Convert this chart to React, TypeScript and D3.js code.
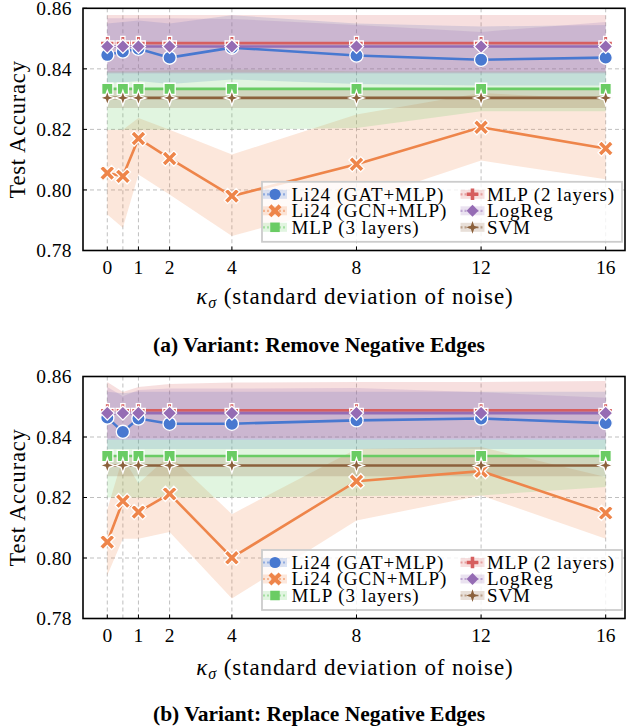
import React, { useEffect, useRef } from 'react';
import * as d3 from 'd3';

// x positions (noise std) and ticks
const noiseLevels = [0, 0.5, 1, 2, 4, 8, 12, 16];
const xTickValues = [0, 1, 2, 4, 8, 12, 16];
const yTickValues = [0.78, 0.8, 0.82, 0.84, 0.86];
const yGridValues = [0.8, 0.82, 0.84];

const seriesNames = ['Li24 (GAT+MLP)', 'Li24 (GCN+MLP)', 'MLP (3 layers)', 'MLP (2 layers)', 'LogReg', 'SVM'];
const seriesColors = ['#4878d0', '#ee854a', '#6acc64', '#d65f5f', '#956cb4', '#8c613c'];
const seriesMarkers = ['circle', 'x', 'square', 'plus', 'diamond', 'star'];

// (a) Remove negative edges
const removeGat = [0.8446, 0.8457, 0.8466, 0.8437, 0.847, 0.8444, 0.843, 0.8437];
const removeGatLo = [0.8355, 0.8355, 0.836, 0.835, 0.8365, 0.835, 0.8345, 0.8345];
const removeGatHi = [0.855, 0.8555, 0.856, 0.855, 0.8577, 0.855, 0.854, 0.8545];
const removeGcn = [0.8056, 0.8045, 0.817, 0.8104, 0.798, 0.8085, 0.8207, 0.8137];
const removeGcnLo = [0.7919, 0.7875, 0.8051, 0.7985, 0.7848, 0.796, 0.8097, 0.8035];
const removeGcnHi = [0.8199, 0.8199, 0.8238, 0.8199, 0.8117, 0.8249, 0.832, 0.83];
const removeMlp3 = [0.8334, 0.8334, 0.8334, 0.8334, 0.8334, 0.8334, 0.8334, 0.8334];
const removeMlp3Lo = [0.8199, 0.8199, 0.8199, 0.8199, 0.8199, 0.8205, 0.826, 0.826];
const removeMlp3Hi = [0.8392, 0.8392, 0.8392, 0.8395, 0.8398, 0.8392, 0.8392, 0.8392];
const removeMlp2 = [0.8485, 0.8485, 0.8485, 0.8485, 0.8485, 0.8485, 0.8485, 0.8485];
const removeMlp2Lo = [0.8388, 0.8388, 0.8388, 0.8388, 0.8388, 0.8388, 0.8388, 0.8388];
const removeMlp2Hi = [0.8578, 0.8578, 0.8578, 0.8578, 0.8578, 0.8578, 0.8578, 0.8578];
const removeLogReg = [0.8474, 0.8474, 0.8474, 0.8474, 0.8474, 0.8474, 0.8474, 0.8474];
const removeLogRegLo = [0.8385, 0.8385, 0.8385, 0.8385, 0.8385, 0.8385, 0.8385, 0.8385];
const removeLogRegHi = [0.8567, 0.8567, 0.8567, 0.8567, 0.8565, 0.8545, 0.8522, 0.8555];
const removeSvm = [0.8304, 0.8304, 0.8304, 0.8304, 0.8304, 0.8304, 0.8304, 0.8304];
const removeSvmLo = [0.8271, 0.8271, 0.8271, 0.8271, 0.8271, 0.8271, 0.8271, 0.8271];
const removeSvmHi = [0.8337, 0.8337, 0.8337, 0.8337, 0.8337, 0.8337, 0.8337, 0.8337];

// (b) Replace negative edges
const replaceGat = [0.8464, 0.8417, 0.8461, 0.8444, 0.8444, 0.8455, 0.8461, 0.8446];
const replaceGatLo = [0.836, 0.836, 0.836, 0.836, 0.836, 0.836, 0.836, 0.836];
const replaceGatHi = [0.855, 0.8545, 0.855, 0.855, 0.855, 0.855, 0.855, 0.855];
const replaceGcn = [0.8053, 0.8188, 0.8152, 0.8212, 0.8001, 0.8254, 0.8287, 0.8149];
const replaceGcnLo = [0.7943, 0.8064, 0.8064, 0.8086, 0.7866, 0.8124, 0.8207, 0.8064];
const replaceGcnHi = [0.816, 0.8333, 0.8246, 0.834, 0.8145, 0.836, 0.8367, 0.8268];
const replaceMlp3 = [0.8337, 0.8337, 0.8337, 0.8337, 0.8337, 0.8337, 0.8337, 0.8337];
const replaceMlp3Lo = [0.82, 0.82, 0.82, 0.82, 0.82, 0.8205, 0.8207, 0.8235];
const replaceMlp3Hi = [0.8392, 0.8392, 0.8392, 0.8392, 0.8392, 0.8392, 0.8392, 0.8392];
const replaceMlp2 = [0.8488, 0.8488, 0.8488, 0.8488, 0.8488, 0.8488, 0.8488, 0.8488];
const replaceMlp2Lo = [0.8395, 0.8395, 0.8395, 0.8395, 0.8395, 0.8395, 0.8395, 0.8395];
const replaceMlp2Hi = [0.8582, 0.8549, 0.8565, 0.8575, 0.858, 0.8582, 0.8582, 0.8585];
const replaceLogReg = [0.8479, 0.8479, 0.8479, 0.8479, 0.8479, 0.8479, 0.8479, 0.8479];
const replaceLogRegLo = [0.839, 0.839, 0.839, 0.839, 0.839, 0.839, 0.839, 0.839];
const replaceLogRegHi = [0.8565, 0.8535, 0.8555, 0.856, 0.856, 0.8562, 0.8548, 0.853];
const replaceSvm = [0.8306, 0.8306, 0.8306, 0.8306, 0.8306, 0.8306, 0.8306, 0.8306];
const replaceSvmLo = [0.827, 0.827, 0.827, 0.827, 0.827, 0.827, 0.827, 0.827];
const replaceSvmHi = [0.834, 0.834, 0.834, 0.834, 0.834, 0.834, 0.834, 0.834];

const panels = [
  {
    caption: '(a) Variant: Remove Negative Edges',
    top: 8.3, bottom: 250.5, xLabelY: 296.7, captionBase: 352,
    series: [
      [removeGat, removeGatLo, removeGatHi],
      [removeGcn, removeGcnLo, removeGcnHi],
      [removeMlp3, removeMlp3Lo, removeMlp3Hi],
      [removeMlp2, removeMlp2Lo, removeMlp2Hi],
      [removeLogReg, removeLogRegLo, removeLogRegHi],
      [removeSvm, removeSvmLo, removeSvmHi],
    ],
  },
  {
    caption: '(b) Variant: Replace Negative Edges',
    top: 376.5, bottom: 618.5, xLabelY: 668.3, captionBase: 720.5,
    series: [
      [replaceGat, replaceGatLo, replaceGatHi],
      [replaceGcn, replaceGcnLo, replaceGcnHi],
      [replaceMlp3, replaceMlp3Lo, replaceMlp3Hi],
      [replaceMlp2, replaceMlp2Lo, replaceMlp2Hi],
      [replaceLogReg, replaceLogRegLo, replaceLogRegHi],
      [replaceSvm, replaceSvmLo, replaceSvmHi],
    ],
  },
];

const serif = '"Liberation Serif", "Times New Roman", serif';

const toPath = (pts: number[][]) => 'M' + pts.map(p => p[0].toFixed(2) + ',' + p[1].toFixed(2)).join('L') + 'Z';
const plusPts = (s: number, w: number) => [
  [w, s], [w, w], [s, w], [s, -w], [w, -w], [w, -s],
  [-w, -s], [-w, -w], [-s, -w], [-s, w], [-w, w], [-w, s],
];

function markerPath(kind: string) {
  switch (kind) {
    case 'circle':
      return d3.symbol().type(d3.symbolCircle).size(Math.PI * 6.6 * 6.6)();
    case 'x':
      return toPath(plusPts(8.4, 2.4).map(([a, b]) => [(a - b) / Math.SQRT2, (a + b) / Math.SQRT2]));
    case 'square':
      return toPath([[-5.6, -5.6], [5.6, -5.6], [5.6, 5.6], [-5.6, 5.6]]);
    case 'plus':
      return toPath(plusPts(6.8, 2.1));
    case 'diamond':
      return toPath([[0, -7], [7, 0], [0, 7], [-7, 0]]);
    default: {
      const s = 7.5, c = 1.9;
      return toPath([[0, -s], [c, -c], [s, 0], [c, c], [0, s], [-c, c], [-s, 0], [-c, -c]]);
    }
  }
}

const App = () => {
  const ref = useRef<SVGSVGElement>(null);

  useEffect(() => {
    const svg = d3.select(ref.current);
    svg.selectAll('*').remove();

    const x = d3.scaleLinear().domain([-0.78, 16.62]).range([83, 625]);

    panels.forEach(p => {
      const y = d3.scaleLinear().domain([0.78, 0.86]).range([p.bottom, p.top]);
      const g = svg.append('g');

      // grid
      g.selectAll('.vgrid').data(noiseLevels).enter().append('line')
        .attr('x1', d => x(d)).attr('x2', d => x(d))
        .attr('y1', p.top).attr('y2', p.bottom)
        .attr('stroke', '#b8b8b8').attr('stroke-width', 0.9).attr('stroke-dasharray', '4,3');
      g.selectAll('.hgrid').data(yGridValues).enter().append('line')
        .attr('x1', 83).attr('x2', 625)
        .attr('y1', d => y(d)).attr('y2', d => y(d))
        .attr('stroke', '#b8b8b8').attr('stroke-width', 0.9).attr('stroke-dasharray', '4,3');

      // bands
      p.series.forEach((s, i) => {
        const area = d3.area<number>()
          .x((d, j) => x(noiseLevels[j]))
          .y0((d, j) => y(s[1][j]))
          .y1((d, j) => y(s[2][j]));
        g.append('path').attr('d', area(s[0]))
          .attr('fill', seriesColors[i]).attr('fill-opacity', 0.2);
      });

      // lines + markers
      p.series.forEach((s, i) => {
        const line = d3.line<number>().x((d, j) => x(noiseLevels[j])).y(d => y(d));
        g.append('path').attr('d', line(s[0]))
          .attr('fill', 'none').attr('stroke', seriesColors[i]).attr('stroke-width', 2.6);
        g.selectAll(null).data(s[0]).enter().append('path')
          .attr('d', markerPath(seriesMarkers[i]))
          .attr('transform', (d, j) => `translate(${x(noiseLevels[j])},${y(d)})`)
          .attr('fill', seriesColors[i]).attr('stroke', 'white').attr('stroke-width', 1.3);
      });

      // frame
      g.append('rect').attr('x', 83).attr('y', p.top).attr('width', 542).attr('height', p.bottom - p.top)
        .attr('fill', 'none').attr('stroke', 'black').attr('stroke-width', 1.6);

      // ticks
      g.selectAll('.yt').data(yTickValues).enter().append('line')
        .attr('x1', 83).attr('x2', 87).attr('y1', d => y(d)).attr('y2', d => y(d))
        .attr('stroke', 'black').attr('stroke-width', 1);
      g.selectAll('.xt').data(xTickValues).enter().append('line')
        .attr('x1', d => x(d)).attr('x2', d => x(d)).attr('y1', p.bottom).attr('y2', p.bottom - 4)
        .attr('stroke', 'black').attr('stroke-width', 1);

      g.selectAll('.yl').data(yTickValues).enter().append('text')
        .attr('x', 72).attr('y', d => y(d)).attr('dy', '0.35em')
        .attr('text-anchor', 'end').style('font-family', serif).style('font-size', '19.5px')
        .style('letter-spacing', '0.4px')
        .text(d => d3.format('.2f')(d));
      g.selectAll('.xl').data(xTickValues).enter().append('text')
        .attr('x', d => x(d)).attr('y', p.bottom + 16.5).attr('dy', '0.35em')
        .attr('text-anchor', 'middle').style('font-family', serif).style('font-size', '19.5px')
        .text(d => d);

      // axis labels
      g.append('text')
        .attr('transform', `translate(17,${(p.top + p.bottom) / 2}) rotate(-90)`)
        .attr('dy', '0.35em').attr('text-anchor', 'middle')
        .style('font-family', serif).style('font-size', '22.5px').style('letter-spacing', '0.8px')
        .text('Test Accuracy');
      const xl = g.append('text')
        .attr('x', 355).attr('y', p.xLabelY).attr('dy', '0.3em').attr('text-anchor', 'middle')
        .style('font-family', serif).style('font-size', '23px').style('letter-spacing', '0.9px');
      xl.append('tspan').style('font-style', 'italic').text('κ');
      xl.append('tspan').style('font-style', 'italic').style('font-size', '16px').attr('dy', '4').text('σ');
      xl.append('tspan').attr('dy', '-4').text(' (standard deviation of noise)');

      // legend
      const lx = 262, ly = p.top + 173.5;
      g.append('rect').attr('x', lx).attr('y', ly).attr('width', 360).attr('height', 60)
        .attr('fill', 'white').attr('fill-opacity', 0.8)
        .attr('stroke', '#cccccc').attr('stroke-width', 1.8);
      seriesNames.forEach((name, i) => {
        const col = i < 3 ? 0 : 1;
        const row = i % 3;
        const mx = col === 0 ? 275 : 472.5;
        const my = ly + 12.5 + row * 16.5;
        const e = g.append('g');
        e.append('rect').attr('x', mx - 12).attr('y', my - 4.5).attr('width', 24).attr('height', 9)
          .attr('fill', seriesColors[i]).attr('fill-opacity', 0.2);
        e.append('line').attr('x1', mx - 12).attr('x2', mx + 12).attr('y1', my).attr('y2', my)
          .attr('stroke', seriesColors[i]).attr('stroke-width', 2.2).attr('stroke-opacity', 0.5)
          .attr('stroke-dasharray', '2,2');
        e.append('path').attr('d', markerPath(seriesMarkers[i]))
          .attr('transform', `translate(${mx},${my}) scale(0.85)`)
          .attr('fill', seriesColors[i]);
        e.append('text').attr('x', col === 0 ? 291.5 : 487).attr('y', my).attr('dy', '0.33em')
          .style('font-family', serif).style('font-size', '19px').style('letter-spacing', '0.9px')
          .text(name);
      });

      // caption
      g.append('text').attr('x', 319).attr('y', p.captionBase).attr('text-anchor', 'middle')
        .style('font-family', serif).style('font-size', '21.5px').style('font-weight', 'bold')
        .text(p.caption);
    });

    return () => {
      svg.selectAll('*').remove();
    };
  }, []);

  return (
    <svg ref={ref} width={628} height={726}
      style={{ position: 'absolute', left: 0, top: 0, background: 'white' }} />
  );
};

export default App;
